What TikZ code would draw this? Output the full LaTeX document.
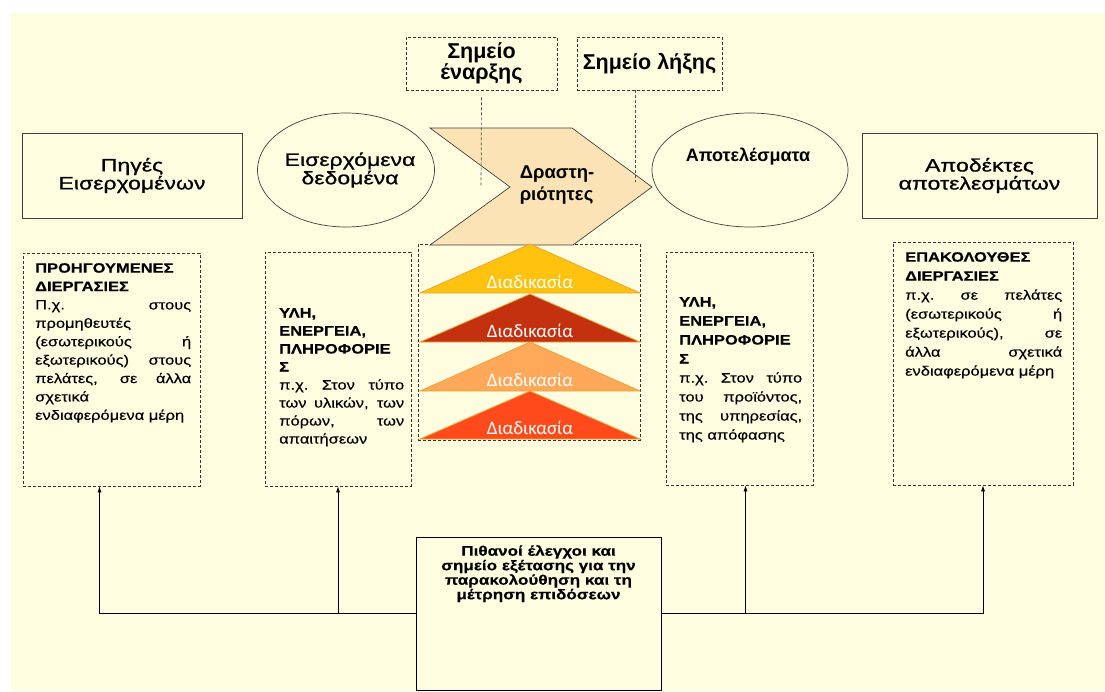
\documentclass[tikz,border=0pt]{standalone}
\usepackage{fontspec}
\setmainfont{Liberation Sans}
\newfontfamily\widefont[FakeStretch=1.28,FakeBold=0.8]{Liberation Sans}
\newfontfamily\boxfont[FakeStretch=1.22,FakeBold=0.35]{Liberation Sans}
\newfontfamily\trifont{Carlito}
\usetikzlibrary{shapes.geometric,arrows.meta}
\definecolor{cream}{HTML}{FFFDE0}
\definecolor{chevron}{HTML}{FCE3B5}
\definecolor{boxgray}{HTML}{404040}
\definecolor{triline}{HTML}{E9A53A}
\definecolor{procA}{HTML}{FFC20E}
\definecolor{procB}{HTML}{C4310F}
\definecolor{procC}{HTML}{FFA85A}
\definecolor{procD}{HTML}{FF4B1C}

\begin{document}
\begin{tikzpicture}[x=1pt,y=-1pt,
		titlebox/.style={draw=boxgray, line width=0.9pt, fill=cream, align=center, font=\widefont\fontsize{18}{18}\selectfont},
		bubble/.style={ellipse, draw=boxgray, line width=0.7pt, fill=cream},
		dbox/.style={draw=black!80, dash pattern=on 3pt off 2pt, line width=0.7pt},
		dline/.style={draw=black!70, dash pattern=on 3pt off 2pt, line width=0.7pt},
		btext/.style={anchor=north west, inner sep=0pt, align=justify, font=\boxfont\fontsize{13.5}{18}\selectfont},
		tri/.style={draw=triline, line width=0.8pt},
		tritext/.style={text=white, inner sep=0pt, font=\trifont\fontsize{19}{19}\selectfont},
		arr/.style={-{Latex[length=6pt,width=4pt]}, line width=0.7pt}
	]
		\useasboundingbox (0,0) rectangle (1105,691);
		\fill[white] (0,0) rectangle (1105,691);
		\fill[cream] (11,13) rectangle (1105,691);

		\node[dbox, minimum width=151pt, minimum height=53pt, align=center, font=\bfseries\fontsize{21.5}{20}\selectfont] (start) at (481.5,63.5) {Σημείο\\έναρξης};
		\node[dbox, minimum width=145pt, minimum height=53pt, font=\bfseries\fontsize{21.5}{20}\selectfont] (end) at (649.5,63.5) {Σημείο λήξης};

		\node[dbox, minimum width=177pt, minimum height=233pt] (prev) at (111.5,369.5) {};
		\node[dbox, minimum width=146pt, minimum height=234pt] (inbox) at (338,369) {};
		\node[dbox, minimum width=222pt, minimum height=196pt] (procbox) at (529,342) {};
		\node[dbox, minimum width=147pt, minimum height=233pt] (outbox) at (739.5,368.5) {};
		\node[dbox, minimum width=180pt, minimum height=243pt] (next) at (983,363.5) {};

		\filldraw[fill=chevron, draw=boxgray, line width=0.7pt] (430,128) -- (572,128) -- (652,187) -- (573,245) -- (430,245) -- (510,187) -- cycle;
		\node[align=left, inner sep=0pt, font=\bfseries\fontsize{18.5}{22}\selectfont] (act) at (557,185) {Δραστη-\\ριότητες};

		\coordinate (startfoot) at (481,187);
		\coordinate (endfoot) at (635,182);
		\draw[dline] ([yshift=-7pt]start.south) -- (startfoot);
		\draw[dline] (end.south -| endfoot) -- (endfoot);

		\node[titlebox, minimum width=220pt, minimum height=85pt] (src) at (132,175.5) {Πηγές\\Εισερχομένων};
		\node[bubble, minimum width=177pt, minimum height=114pt] (inp) at (346,170) {};
		\node[align=center, inner sep=0pt, font=\widefont\fontsize{18}{16}\selectfont] (inptxt) at (350,170) {Εισερχόμενα\\δεδομένα};
		\node[bubble, minimum width=196pt, minimum height=114pt] (outp) at (750,170) {};
		\node[inner sep=0pt, font=\bfseries\fontsize{18}{18}\selectfont] (outptxt) at (748,157) {Αποτελέσματα};
		\node[titlebox, minimum width=235pt, minimum height=85pt] (dst) at (979.5,175.5) {Αποδέκτες\\αποτελεσμάτων};

		\filldraw[tri, fill=procA] (530,244) -- (640,293) -- (420,293) -- cycle;
		\node[tritext] (procA) at (530,282) {Διαδικασία};
		\filldraw[tri, fill=procB] (530,294) -- (640,342) -- (420,342) -- cycle;
		\node[tritext] (procB) at (530,331) {Διαδικασία};
		\filldraw[tri, fill=procC] (530,342) -- (640,391) -- (420,391) -- cycle;
		\node[tritext] (procC) at (530,380) {Διαδικασία};
		\filldraw[tri, fill=procD] (530,391) -- (640,439) -- (420,439) -- cycle;
		\node[tritext] (procD) at (530,428) {Διαδικασία};

		\node[btext, text width=156pt, font=\boxfont\fontsize{13.5}{18.4}\selectfont] (prevtxt) at (35,263) {\textbf{ΠΡΟΗΓΟΥΜΕΝΕΣ}\\
			\textbf{ΔΙΕΡΓΑΣΙΕΣ}\\
			Π.χ.\ στους\linebreak
			προμηθευτές\\
			(εσωτερικούς ή\linebreak
			εξωτερικούς) στους\linebreak
			πελάτες, σε άλλα\linebreak
			σχετικά\\
			ενδιαφερόμενα μέρη};
		\node[btext, text width=125pt] (intxt) at (279,308) {\textbf{ΥΛΗ,}\\
			\textbf{ΕΝΕΡΓΕΙΑ,}\\
			\textbf{ΠΛΗΡΟΦΟΡΙΕ}\\
			\textbf{Σ}\\
			π.χ.\ Στον τύπο\linebreak
			των υλικών, των\linebreak
			πόρων, των\linebreak
			απαιτήσεων};
		\node[btext, text width=123pt, font=\boxfont\fontsize{13.5}{19}\selectfont] (outtxt) at (679,297) {\textbf{ΥΛΗ,}\\
			\textbf{ΕΝΕΡΓΕΙΑ,}\\
			\textbf{ΠΛΗΡΟΦΟΡΙΕ}\\
			\textbf{Σ}\\
			π.χ.\ Στον τύπο\linebreak
			του προϊόντος,\linebreak
			της υπηρεσίας,\linebreak
			της απόφασης};
		\node[btext, text width=157pt, font=\boxfont\fontsize{13.5}{19}\selectfont] (nexttxt) at (905,252) {\textbf{ΕΠΑΚΟΛΟΥΘΕΣ}\\
			\textbf{ΔΙΕΡΓΑΣΙΕΣ}\\
			π.χ.\ σε πελάτες\linebreak
			(εσωτερικούς ή\linebreak
			εξωτερικούς), σε\linebreak
			άλλα σχετικά\linebreak
			ενδιαφερόμενα μέρη};

		\node[draw=black, line width=1pt, fill=cream, minimum width=245pt, minimum height=153pt] (ctrl) at (538.5,613.5) {};
		\node[anchor=north, inner sep=0pt, align=center, font=\boxfont\bfseries\fontsize{14}{14.5}\selectfont] (ctrltxt) at (538.5,545) {Πιθανοί έλεγχοι και\\
			σημείο εξέτασης για την\\
			παρακολούθηση και τη\\
			μέτρηση επιδόσεων};

		\draw[arr] (ctrl.west) -| ([xshift=-12pt]prev.south);
		\draw[arr] (ctrl.west -| inbox.south) -- (inbox.south);
		\draw[arr] (ctrl.east) -| (next.south);
		\draw[arr] (ctrl.east -| outbox.south) ++(6pt,0) -- ([xshift=6pt]outbox.south);
	\end{tikzpicture}
\end{document}
